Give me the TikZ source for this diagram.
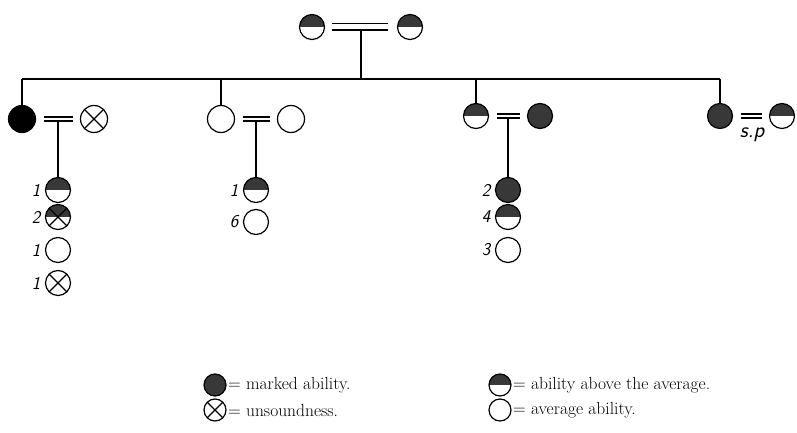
\documentclass[tikz,border=0pt]{standalone}
\usepackage{tkz-graph}
\usetikzlibrary{positioning,calc}
\colorlet{myink}{black!78}
\tikzset{
  sym/.style={shape=circle, draw, line width=1.2pt, minimum size=25pt, inner sep=0pt},
  halftop/.style={path picture={\fill[myink] (path picture bounding box.west) rectangle (path picture bounding box.north east);}},
  cross/.style={path picture={\draw[line width=1.2pt] (path picture bounding box.north west) -- (path picture bounding box.south east) (path picture bounding box.south west) -- (path picture bounding box.north east);}},
  halfcross/.style={path picture={\fill[myink] (path picture bounding box.west) rectangle (path picture bounding box.north east);
    \draw[line width=1.2pt] (path picture bounding box.north west) -- (path picture bounding box.south east) (path picture bounding box.south west) -- (path picture bounding box.north east);}},
  count/.style={font=\fontsize{18}{21}\selectfont\sffamily\itshape, inner sep=1pt},
  legtext/.style={font=\fontsize{17.5}{20}\selectfont, inner sep=0pt},
}

\begin{document}
\begin{tikzpicture}[x=1pt, y=1pt]
\useasboundingbox (0,0) rectangle (797,432);
% parents
\tikzset{VertexStyle/.style ={sym, halftop}}
\Vertex[x=312, y=405, NoLabel]{P}
\Vertex[x=410, y=405, NoLabel]{Q}
% second generation
\tikzset{VertexStyle/.style ={sym, minimum size=27pt, fill=black}}
\Vertex[x=22, y=313, NoLabel]{A1}
\tikzset{VertexStyle/.style ={sym, minimum size=27pt, cross}}
\Vertex[x=94, y=313, NoLabel]{B1}
\tikzset{VertexStyle/.style ={sym, minimum size=27pt}}
\Vertex[x=221, y=313, NoLabel]{A2}
\Vertex[x=291, y=313, NoLabel]{B2}
\tikzset{VertexStyle/.style ={sym, halftop}}
\Vertex[x=476, y=316, NoLabel]{A3}
\Vertex[x=782, y=316, NoLabel]{B4}
\tikzset{VertexStyle/.style ={sym, fill=myink}}
\Vertex[x=540, y=316, NoLabel]{B3}
\Vertex[x=720, y=316, NoLabel]{A4}
\node[count, font=\fontsize{22}{24}\selectfont\sffamily\itshape] (sp) at (752,297) {s.p};
% children
\tikzset{VertexStyle/.style ={sym, halftop}}
\Vertex[x=58, y=242, NoLabel]{C11}
\Vertex[x=256, y=242, NoLabel]{C21}
\Vertex[x=508, y=215, NoLabel]{C32}
\tikzset{VertexStyle/.style ={sym, halfcross}}
\Vertex[x=58, y=215, NoLabel]{C12}
\tikzset{VertexStyle/.style ={sym}}
\Vertex[x=58, y=182, NoLabel]{C13}
\Vertex[x=256, y=210, NoLabel]{C22}
\Vertex[x=508, y=182, NoLabel]{C33}
\tikzset{VertexStyle/.style ={sym, cross}}
\Vertex[x=58, y=149, NoLabel]{C14}
\tikzset{VertexStyle/.style ={sym, fill=myink}}
\Vertex[x=508, y=242, NoLabel]{C31}
\node[count, left=4pt of C11] (n11) {1};
\node[count, left=4pt of C12] (n12) {2};
\node[count, left=4pt of C13] (n13) {1};
\node[count, left=4pt of C14] (n14) {1};
\node[count, left=4pt of C21] (n21) {1};
\node[count, left=4pt of C22] (n22) {6};
\node[count, left=4pt of C31] (n31) {2};
\node[count, left=4pt of C32] (n32) {4};
\node[count, left=4pt of C33] (n33) {3};
% lines
\coordinate (barL) at (22,353);
\coordinate (barR) at (720,353);
\coordinate (m0) at ($(P)!0.5!(Q)$);
\coordinate (t0) at (m0 |- barL);
\coordinate (d2) at (A2 |- barL);
\coordinate (d3) at (A3 |- barL);
\coordinate (m1) at ($(A1)!0.5!(B1)$);
\coordinate (m2) at ($(A2)!0.5!(B2)$);
\coordinate (m3) at ($(A3)!0.5!(B3)$);
\tikzset{EdgeStyle/.style ={line width=1.3pt}}
\Edge(m0)(t0)
\Edge(barL)(barR)
\Edge(barL)(A1)
\Edge(d2)(A2)
\Edge(d3)(A3)
\Edge(barR)(A4)
\Edge(m1)(C11)
\Edge(m2)(C21)
\Edge(m3)(C31)
\tikzset{EdgeStyle/.style ={line width=1.3pt, double, double distance=5pt, shorten <=7pt, shorten >=10pt}}
\Edge(P)(Q)
\tikzset{EdgeStyle/.style ={line width=1.3pt, double, double distance=2.5pt, shorten <=8pt, shorten >=8pt}}
\Edge(A1)(B1)
\Edge(A2)(B2)
\Edge(A3)(B3)
\Edge(A4)(B4)
% key
\tikzset{VertexStyle/.style ={sym, minimum size=22pt, fill=myink}}
\Vertex[x=215, y=47, NoLabel]{K1}
\tikzset{VertexStyle/.style ={sym, minimum size=22pt, cross}}
\Vertex[x=215, y=22, NoLabel]{K2}
\tikzset{VertexStyle/.style ={sym, minimum size=22pt, halftop}}
\Vertex[x=500, y=47, NoLabel]{K3}
\tikzset{VertexStyle/.style ={sym, minimum size=22pt}}
\Vertex[x=500, y=22, NoLabel]{K4}
\node[legtext, right=2pt of K1] (k1) {= marked ability.};
\node[legtext, right=2pt of K2] (k2) {= unsoundness.};
\node[legtext, right=2pt of K3] (k3) {= ability above the average.};
\node[legtext, right=2pt of K4] (k4) {= average ability.};
\end{tikzpicture}
\end{document}
